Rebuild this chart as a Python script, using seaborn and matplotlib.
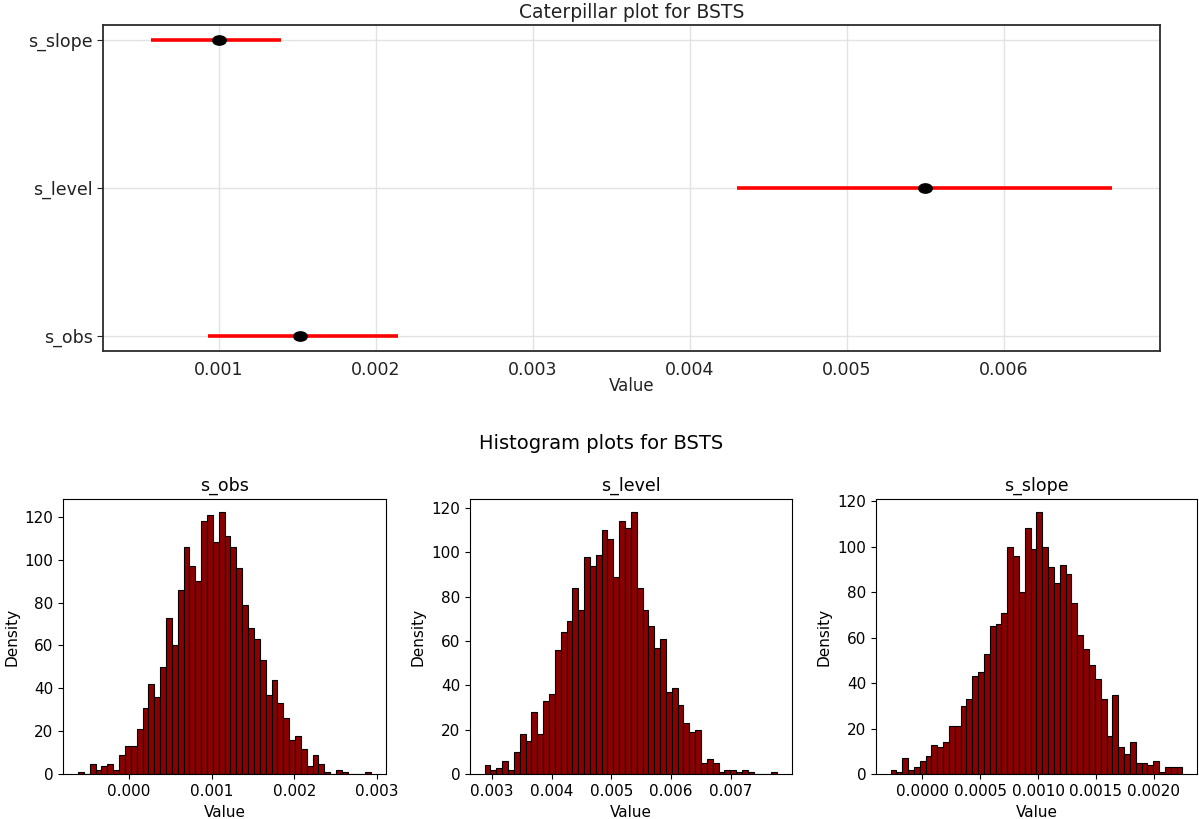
import numpy as np
import pandas as pd
import matplotlib
matplotlib.use("Agg")
import matplotlib.pyplot as plt
import matplotlib.path as mpath
import seaborn as sns

# ---------------- data ----------------
params = ["s_obs", "s_level", "s_slope"]
post_mean = [0.00152, 0.00550, 0.00100]
ci_lower = [0.00093, 0.00430, 0.00057]
ci_upper = [0.00214, 0.00669, 0.00140]
cat_xticks = [0.001, 0.002, 0.003, 0.004, 0.005, 0.006]

obs_counts = [1, 0, 5, 2, 4, 5, 2, 9, 13, 13, 21, 31, 42, 36, 50, 73, 60, 86, 106, 97,
              90, 118, 121, 108, 122, 111, 106, 96, 79, 68, 63, 53, 37, 44, 33, 26, 16, 18, 12, 4,
              9, 5, 1, 0, 2, 1, 0, 0, 0, 1]
obs_range = (-0.000619, 0.002933)
obs_xticks = [0.000, 0.001, 0.002, 0.003]

level_counts = [4, 2, 3, 6, 2, 10, 18, 15, 28, 18, 33, 36, 56, 64, 69, 84, 74, 98, 94, 99,
                110, 106, 89, 114, 111, 118, 84, 74, 67, 57, 61, 37, 39, 31, 23, 19, 20, 5, 7, 5,
                1, 2, 2, 1, 2, 1, 0, 0, 0, 1]
level_range = (0.002877, 0.007775)
level_xticks = [0.003, 0.004, 0.005, 0.006, 0.007]

slope_counts = [2, 1, 7, 2, 3, 6, 8, 13, 12, 14, 21, 21, 30, 33, 43, 45, 53, 65, 66, 71,
                100, 96, 80, 108, 99, 115, 100, 91, 84, 92, 88, 75, 61, 55, 48, 42, 33, 17, 35, 12,
                9, 14, 5, 5, 4, 6, 1, 3, 3, 3]
slope_range = (-0.000273, 0.002246)
slope_xticks = [0.0000, 0.0005, 0.0010, 0.0015, 0.0020]

hist_titles = ["s_obs", "s_level", "s_slope"]

# ---------------- figure ----------------
fig = plt.figure(figsize=(11.99, 8.19), dpi=100)

# Caterpillar plot
ax = fig.add_axes([0.0859, 0.5714, 0.8816, 0.3981])
ypos = np.arange(len(params))
ax.hlines(y=ypos, xmin=ci_lower, xmax=ci_upper, color="red", lw=2.6, zorder=2)
circ = mpath.Path.unit_circle()
ell = mpath.Path(circ.vertices * np.array([1.0, 0.72]), circ.codes)
sns.scatterplot(x=post_mean, y=ypos, color="black", marker=ell, s=115,
                edgecolor="black", linewidth=0, zorder=3, ax=ax)
ax.set_yticks(ypos)
ax.set_yticklabels(params)
ax.set_xticks(cat_xticks)
ax.set_xticklabels([f"{v:.3f}" for v in cat_xticks])
ax.grid(True, color="#e3e3e3", lw=1.0)
ax.set_axisbelow(True)
for sp in ax.spines.values():
    sp.set_color("#2b2b2b")
    sp.set_linewidth(1.3)
ax.tick_params(axis="both", labelsize=12.5, colors="#222222", length=4)
ax.tick_params(axis="x", length=0, pad=7)
ax.set_xlabel("Value", fontsize=12, color="#222222", labelpad=-1)
ax.set_ylabel("")
ax.set_title("Caterpillar plot for BSTS", fontsize=13.5, color="#222222", pad=5)

# Histograms
fig.text(0.501, 0.4579, "Histogram plots for BSTS", ha="center", va="center", fontsize=14)

hist_rects = [[0.0528, 0.0546, 0.2691, 0.3358],
              [0.3920, 0.0546, 0.2683, 0.3358],
              [0.7306, 0.0546, 0.2677, 0.3358]]
all_counts = [obs_counts, level_counts, slope_counts]
all_ranges = [obs_range, level_range, slope_range]
all_xticks = [obs_xticks, level_xticks, slope_xticks]
tick_fmt = ["{:.3f}", "{:.3f}", "{:.4f}"]

for rect, title, counts, (lo, hi), xt, fmt in zip(hist_rects, hist_titles, all_counts,
                                                  all_ranges, all_xticks, tick_fmt):
    hax = fig.add_axes(rect)
    edges = np.linspace(lo, hi, len(counts) + 1)
    centers = (edges[:-1] + edges[1:]) / 2
    df = pd.DataFrame({"Value": centers, "count": counts})
    sns.histplot(data=df, x="Value", weights="count", bins=list(edges), color="#8b0000",
                 edgecolor="black", linewidth=0.8, alpha=1.0, ax=hax)
    hax.set_xticks(xt)
    hax.set_xticklabels([fmt.format(v) for v in xt])
    hax.set_title(title, fontsize=12.5)
    hax.set_xlabel("Value", fontsize=11)
    hax.set_ylabel("Density", fontsize=11)
    hax.tick_params(labelsize=11)

fig.savefig("out.png", dpi=100)
